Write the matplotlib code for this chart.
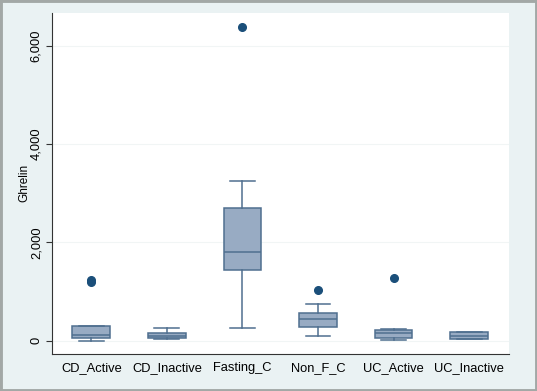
import matplotlib
matplotlib.use("Agg")
from matplotlib import pyplot as plt
from matplotlib.patches import Rectangle

# values (Ghrelin)
groups = ["CD_Active", "CD_Inactive", "Fasting_C", "Non_F_C", "UC_Active", "UC_Inactive"]
q1 = [47, 54, 1431, 278, 47, 34]
medians = [108, 95, 1804, 434, 149, 102]
q3 = [292, 149, 2705, 556, 210, 170]
whis_low = [0, 40, 251, 95, 7, 34]
whis_high = [300, 264, 3248, 739, 244, 170]
fliers = [[1240, 1185], [], [6387], [1037], [1281], []]
y_ticks = [0, 2000, 4000, 6000]

plt.rcParams['font.family'] = ['Liberation Sans', 'DejaVu Sans']

bg = "#eaf2f3"
box_face = "#98abc3"
box_edge = "#4f6f8f"
dot = "#1b4f7a"

fig = plt.figure(figsize=(5.37, 3.91), dpi=100)
fig.patch.set_facecolor(bg)
ax = fig.add_axes([0.097, 0.095, 0.851, 0.872])
ax.set_facecolor("white")

stats = []
for i, g in enumerate(groups):
    stats.append(dict(label=g, med=medians[i], q1=q1[i], q3=q3[i],
                      whislo=whis_low[i], whishi=whis_high[i], fliers=fliers[i]))

ax.bxp(stats, positions=range(1, len(groups) + 1), widths=0.5, patch_artist=True,
       capwidths=0.33,
       boxprops=dict(facecolor=box_face, edgecolor=box_edge, linewidth=1.1),
       medianprops=dict(color=box_edge, linewidth=1.1),
       whiskerprops=dict(color=box_edge, linewidth=1.1),
       capprops=dict(color=box_edge, linewidth=1.1),
       flierprops=dict(marker="o", markerfacecolor=dot, markeredgecolor=dot, markersize=5.5))

ax.set_xlim(0.48, 6.53)
ax.set_ylim(-270, 6665)
ax.set_yticks(y_ticks)
ax.set_yticklabels([f"{v:,}" for v in y_ticks], rotation=90, va="center", fontsize=9.3)
ax.tick_params(axis="y", length=4, width=0.8, color="#333333", pad=3)
ax.tick_params(axis="x", length=0, labelsize=9.3, pad=6)
ax.grid(axis="y", color="#f1f5f5", linewidth=0.8)
ax.set_axisbelow(True)
for s in ["top", "right"]:
    ax.spines[s].set_visible(False)
for s in ["left", "bottom"]:
    ax.spines[s].set_color("#333333")
    ax.spines[s].set_linewidth(0.8)
ax.set_ylabel("Ghrelin", fontsize=8.5, labelpad=0)

# outer grey frame
fig.patches.append(Rectangle((0, 0), 1, 1, transform=fig.transFigure, fill=False,
                             edgecolor="#a3a8a6", linewidth=3.5))

plt.savefig("out.png", dpi=100, facecolor=bg)
